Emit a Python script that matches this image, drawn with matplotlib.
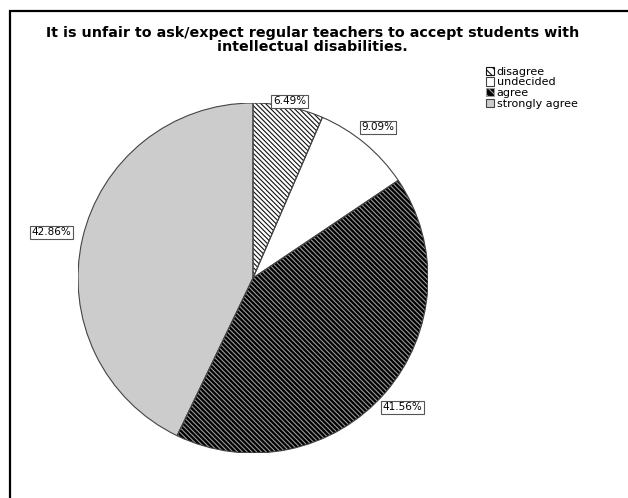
import numpy as np
import matplotlib.pyplot as plt
from matplotlib.patches import Rectangle, Wedge

plt.rcParams['font.family'] = ['DejaVu Sans']
plt.rcParams['hatch.linewidth'] = 0.8

categories = ['disagree', 'undecided', 'agree', 'strongly agree']
percents = [6.49, 9.09, 41.56, 42.86]
title = ('It is unfair to ask/expect regular teachers to accept students with\n'
         'intellectual disabilities.')

fills = ['white', 'white', 'black', '#cccccc']
hatches = ['\\' * 7, None, '\\' * 7, None]
hatch_cols = ['#111111', 'white', '#9a9a9a', '#cccccc']
label_r = [1.03, 1.12, 1.13, 1.18]

W, H = 628, 498
fig = plt.figure(figsize=(W / 100, H / 100), dpi=100)

# outer frame, open to the right and bottom
fig.add_artist(Rectangle((10 / W, -0.1), 1.2, 1.1 - 11 / H,
                         transform=fig.transFigure, fill=False,
                         lw=1.6, ec='black'))

fig.text(0.4975, 1 - 40 / H, title, ha='center', va='center',
         fontsize=10.3, fontweight='bold', linespacing=0.95)

cx, cy, R = 253, 278, 175
ax = fig.add_axes([(cx - R) / W, (H - cy - R) / H, 2 * R / W, 2 * R / H])
ax.set_aspect('equal')

wedges, _ = ax.pie(percents, startangle=90, counterclock=False,
                   colors=fills, wedgeprops=dict(lw=0))
for w, h, hc in zip(wedges, hatches, hatch_cols):
    w.set_edgecolor(hc)
    if h:
        w.set_hatch(h)
    # outline on top
    ax.add_patch(Wedge(w.center, w.r, w.theta1, w.theta2, fill=False,
                       ec='#444444', lw=0.8))

for w, p, r in zip(wedges, percents, label_r):
    mid = np.deg2rad((w.theta1 + w.theta2) / 2)
    ax.text(r * np.cos(mid), r * np.sin(mid), f'{p:.2f}%',
            ha='center', va='center', fontsize=7.5,
            bbox=dict(boxstyle='square,pad=0.15', fc='white',
                      ec='#555555', lw=0.8))

ax.set_xlim(-1, 1)
ax.set_ylim(-1, 1)
ax.axis('off')

leg = fig.legend(wedges, categories, loc='upper left',
                 bbox_to_anchor=(480 / W, 1 - 61 / H), frameon=False,
                 fontsize=8, handlelength=0.8, handleheight=0.8,
                 handletextpad=0.2, labelspacing=0.05, borderpad=0)
for h, hatch in zip(leg.legend_handles, hatches):
    h.set_linewidth(0.8)
    if hatch is None:
        h.set_edgecolor('#444444')
    else:
        h.set_hatch('\\' * 4)

fig.savefig('out.png', dpi=100)
